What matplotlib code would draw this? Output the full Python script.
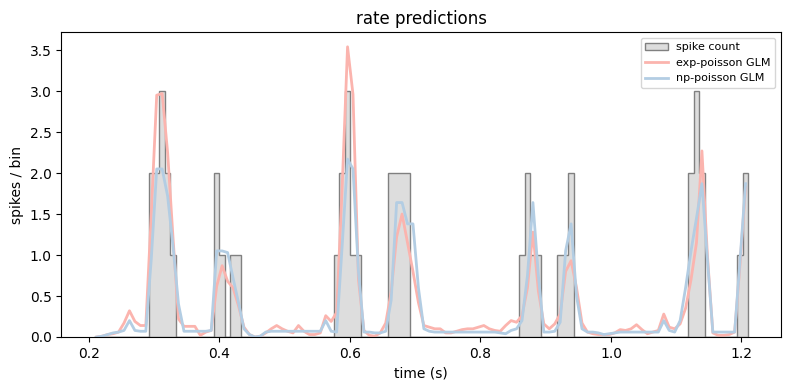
import numpy as np
import matplotlib
matplotlib.use("Agg")
import matplotlib.pyplot as plt

# time bins (s)
t_start = 0.2079
t_stop = 1.2104
n_bins = 120

# observed spikes per bin
spike_counts = [
    0, 0, 0, 0, 0, 0, 0, 0, 0, 0,
    2, 2, 3, 2, 1, 0, 0, 0, 0, 0,
    0, 0, 2, 1, 0, 1, 1, 0, 0, 0,
    0, 0, 0, 0, 0, 0, 0, 0, 0, 0,
    0, 0, 0, 0, 1, 2, 3, 1, 1, 0,
    0, 0, 0, 0, 2, 2, 2, 2, 0, 0,
    0, 0, 0, 0, 0, 0, 0, 0, 0, 0,
    0, 0, 0, 0, 0, 0, 0, 0, 1, 2,
    1, 1, 0, 0, 0, 1, 1, 2, 0, 0,
    0, 0, 0, 0, 0, 0, 0, 0, 0, 0,
    0, 0, 0, 0, 0, 0, 0, 0, 0, 2,
    3, 2, 0, 0, 0, 0, 0, 0, 1, 2,
]

# predicted rate, exponential nonlinearity
exp_rate = [
    0.00, 0.01, 0.03, 0.04, 0.06, 0.17, 0.32, 0.19, 0.14, 0.14,
    1.50, 2.95, 2.97, 2.25, 1.20, 0.22, 0.13, 0.13, 0.13, 0.02,
    0.06, 0.08, 0.62, 0.87, 0.68, 0.60, 0.38, 0.12, 0.03, 0.00,
    0.01, 0.05, 0.10, 0.14, 0.10, 0.07, 0.05, 0.14, 0.07, 0.03,
    0.03, 0.05, 0.26, 0.19, 0.30, 1.80, 3.54, 2.96, 0.70, 0.08,
    0.02, 0.01, 0.05, 0.17, 0.55, 1.22, 1.50, 1.15, 0.80, 0.42,
    0.14, 0.12, 0.10, 0.10, 0.05, 0.05, 0.07, 0.09, 0.10, 0.10,
    0.12, 0.14, 0.10, 0.08, 0.07, 0.14, 0.20, 0.18, 0.26, 0.60,
    1.28, 0.56, 0.16, 0.10, 0.16, 0.28, 0.80, 0.93, 0.60, 0.17,
    0.06, 0.04, 0.03, 0.03, 0.03, 0.05, 0.09, 0.08, 0.10, 0.15,
    0.09, 0.04, 0.06, 0.08, 0.28, 0.12, 0.10, 0.16, 0.35, 0.70,
    1.15, 2.27, 1.00, 0.05, 0.02, 0.02, 0.03, 0.06, 0.90, 1.83,
]

# predicted rate, nonparametric nonlinearity
np_rate = [
    0.00, 0.01, 0.03, 0.05, 0.06, 0.08, 0.20, 0.08, 0.07, 0.07,
    0.95, 2.05, 2.05, 1.72, 1.10, 0.40, 0.07, 0.07, 0.07, 0.07,
    0.07, 0.08, 1.05, 1.05, 1.03, 0.72, 0.42, 0.10, 0.03, 0.00,
    0.01, 0.06, 0.07, 0.07, 0.07, 0.07, 0.07, 0.07, 0.07, 0.07,
    0.07, 0.07, 0.20, 0.07, 0.06, 1.10, 2.17, 2.05, 0.80, 0.06,
    0.06, 0.05, 0.05, 0.07, 0.45, 1.64, 1.64, 1.38, 1.38, 0.60,
    0.10, 0.07, 0.06, 0.06, 0.06, 0.06, 0.06, 0.06, 0.06, 0.06,
    0.06, 0.06, 0.06, 0.06, 0.05, 0.04, 0.08, 0.10, 0.20, 0.75,
    1.64, 0.75, 0.06, 0.06, 0.07, 0.18, 1.05, 1.38, 0.50, 0.10,
    0.06, 0.06, 0.05, 0.03, 0.04, 0.05, 0.06, 0.06, 0.06, 0.06,
    0.06, 0.06, 0.06, 0.06, 0.20, 0.08, 0.06, 0.20, 0.60, 1.05,
    1.45, 1.87, 0.95, 0.06, 0.06, 0.06, 0.06, 0.06, 0.95, 1.87,
]

edges = np.linspace(t_start, t_stop, n_bins + 1)
centers = 0.5 * (edges[:-1] + edges[1:])

fig, ax = plt.subplots(figsize=(7.9, 3.9), dpi=100)

ax.hist(centers, bins=edges, weights=spike_counts, histtype="stepfilled",
        facecolor="#dddddd", edgecolor="gray", label="spike count")
ax.plot(centers, exp_rate, color="#fbb4ae", lw=2, label="exp-poisson GLM")
ax.plot(centers, np_rate, color="#b3cde3", lw=2, label="np-poisson GLM")

ax.set_title("rate predictions")
ax.set_xlabel("time (s)")
ax.set_ylabel("spikes / bin")
ax.legend(loc="upper right", fontsize=8)

# match the reference's axes box
fig.subplots_adjust(left=0.0776, right=0.9886, bottom=0.1359, top=0.9172)
plt.savefig("out.png")
plt.close(fig)
